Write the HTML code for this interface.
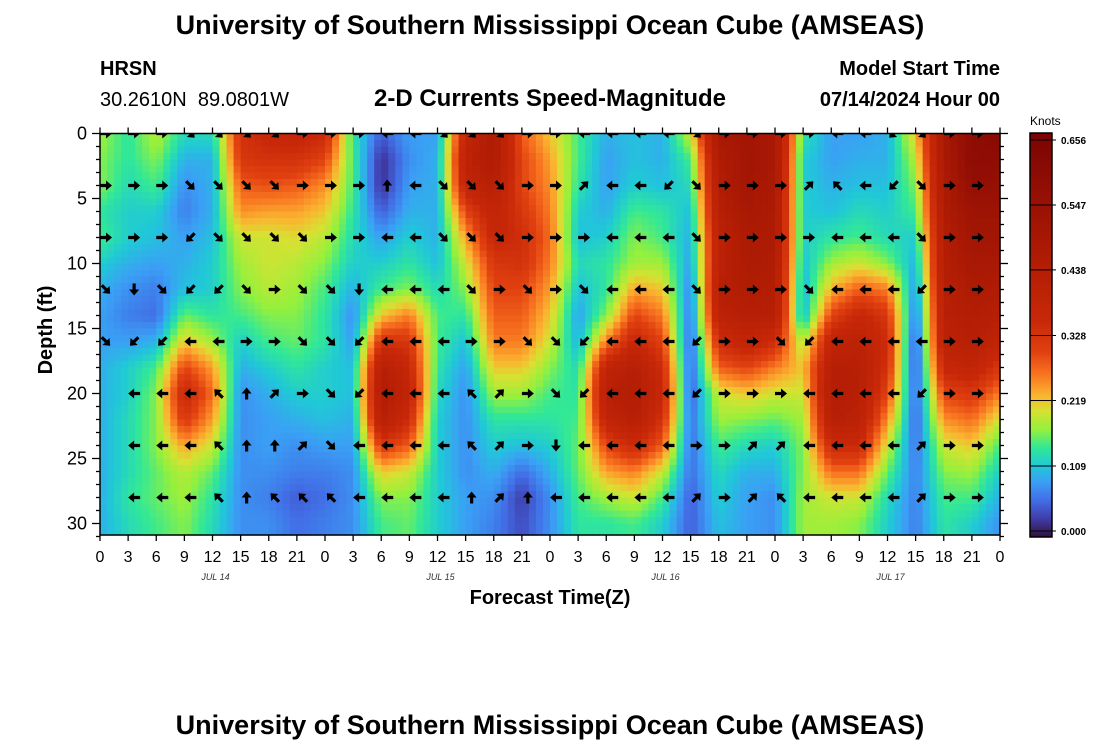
<!DOCTYPE html>
<html><head><meta charset="utf-8">
<style>
body{margin:0;background:#fff;}
svg text{font-family:"Liberation Sans",sans-serif;}
</style></head>
<body>
<svg id="chart" width="1100" height="750" viewBox="0 0 1100 750" xmlns="http://www.w3.org/2000/svg">
<text x="550" y="34" text-anchor="middle" font-size="27" font-weight="bold">University of Southern Mississippi Ocean Cube (AMSEAS)</text>
<text x="100" y="75" font-size="20" font-weight="bold">HRSN</text>
<text x="100" y="106" font-size="20" xml:space="preserve">30.2610N  89.0801W</text>
<text x="550" y="106" text-anchor="middle" font-size="24" font-weight="bold">2-D Currents Speed-Magnitude</text>
<text x="1000" y="75" text-anchor="end" font-size="20" font-weight="bold">Model Start Time</text>
<text x="1000" y="106" text-anchor="end" font-size="20" font-weight="bold">07/14/2024 Hour 00</text>
<clipPath id="plotclip"><rect x="100" y="133.5" width="900" height="401.5"/></clipPath>
<g id="heat"></g>
<g id="arrows" clip-path="url(#plotclip)"></g>
<rect x="100" y="133.5" width="900" height="401.5" fill="none" stroke="#000" stroke-width="1.5"/>
<g id="axes"></g>
<text transform="translate(52,330) rotate(-90)" text-anchor="middle" font-size="20" font-weight="bold">Depth (ft)</text>
<text x="550" y="604" text-anchor="middle" font-size="20" font-weight="bold">Forecast Time(Z)</text>
<text x="1030" y="125" font-size="12">Knots</text>
<defs><linearGradient id="cbg" x1="0" y1="1" x2="0" y2="0"></linearGradient></defs>
<rect x="1030" y="133" width="22" height="404" fill="url(#cbg)" stroke="#000" stroke-width="1.5"/>
<g id="cbticks"></g>
<text x="550" y="734" text-anchor="middle" font-size="27" font-weight="bold">University of Southern Mississippi Ocean Cube (AMSEAS)</text>
</svg>
<script>
// forecast hours (columns) and depths (rows)
const hours = [0,3,6,9,12,15,18,21,24,27,30,33,36,39,42,45,48,51,54,57,60,63,66,69,72,75,78,81,84,87,90,93,96];
const depths = [0,2,4,6,8,10,12,14,16,18,20,22,24,26,28,30];
// speed (knots), one array per forecast hour, values top-to-bottom by depth
const speedT0  = [.18,.17,.17,.14,.15,.12,.10,.09,.09,.10,.10,.10,.10,.10,.10,.10];
const speedT3  = [.14,.14,.13,.12,.12,.10,.08,.07,.09,.12,.12,.13,.13,.13,.14,.13];
const speedT6  = [.19,.17,.15,.12,.11,.09,.07,.06,.10,.15,.17,.17,.17,.16,.16,.15];
const speedT9  = [.13,.10,.08,.07,.09,.10,.11,.16,.22,.30,.36,.32,.24,.19,.18,.17];
const speedT12 = [.13,.10,.10,.10,.11,.12,.12,.14,.18,.24,.27,.24,.20,.16,.14,.13];
const speedT15 = [.33,.32,.28,.25,.20,.18,.17,.15,.12,.10,.08,.08,.08,.08,.08,.08];
const speedT18 = [.36,.33,.29,.24,.20,.20,.19,.17,.15,.12,.10,.09,.09,.08,.07,.08];
const speedT21 = [.37,.33,.28,.24,.21,.19,.18,.17,.16,.14,.12,.10,.08,.07,.05,.06];
const speedT24 = [.35,.30,.25,.22,.19,.17,.15,.14,.14,.12,.12,.11,.09,.07,.06,.07];
const speedT27 = [.14,.15,.15,.14,.13,.12,.10,.08,.09,.11,.11,.10,.09,.08,.08,.08];
const speedT30 = [.05,.02,.02,.05,.09,.12,.15,.22,.33,.42,.45,.42,.32,.22,.17,.15];
const speedT33 = [.09,.08,.09,.10,.12,.14,.17,.26,.32,.36,.38,.34,.28,.20,.17,.16];
const speedT36 = [.09,.10,.10,.10,.10,.11,.13,.15,.15,.14,.13,.12,.12,.12,.12,.12];
const speedT39 = [.37,.40,.38,.30,.24,.20,.17,.14,.11,.09,.08,.08,.08,.08,.09,.09];
const speedT42 = [.46,.45,.42,.38,.36,.32,.30,.28,.26,.22,.18,.14,.12,.10,.08,.07];
const speedT45 = [.28,.30,.30,.32,.34,.33,.30,.28,.26,.22,.18,.14,.11,.06,.03,.04];
const speedT48 = [.22,.24,.25,.26,.27,.26,.24,.22,.20,.17,.15,.14,.12,.10,.08,.08];
const speedT51 = [.15,.15,.14,.12,.11,.13,.11,.09,.10,.13,.14,.15,.16,.16,.15,.14];
const speedT54 = [.10,.09,.09,.10,.12,.14,.14,.17,.26,.38,.42,.38,.30,.24,.18,.14];
const speedT57 = [.11,.11,.12,.15,.17,.18,.24,.30,.36,.42,.44,.42,.35,.26,.20,.15];
const speedT60 = [.10,.10,.11,.14,.15,.18,.22,.26,.30,.34,.36,.33,.28,.20,.15,.12];
const speedT63 = [.20,.15,.13,.11,.10,.09,.07,.06,.05,.05,.05,.06,.06,.06,.05,.05];
const speedT66 = [.48,.45,.44,.42,.40,.40,.42,.40,.34,.28,.20,.18,.15,.13,.12,.11];
const speedT69 = [.50,.50,.50,.48,.46,.46,.45,.42,.38,.30,.22,.17,.13,.10,.09,.09];
const speedT72 = [.48,.48,.47,.46,.46,.45,.44,.42,.34,.26,.20,.16,.12,.10,.08,.08];
const speedT75 = [.14,.12,.12,.12,.12,.11,.10,.10,.18,.22,.20,.18,.17,.17,.18,.18];
const speedT78 = [.09,.09,.10,.11,.14,.18,.23,.30,.38,.42,.44,.42,.35,.27,.20,.18];
const speedT81 = [.09,.10,.11,.13,.15,.20,.28,.36,.40,.42,.42,.40,.35,.27,.20,.17];
const speedT84 = [.10,.10,.11,.12,.13,.17,.26,.32,.34,.33,.30,.25,.20,.16,.13,.12];
const speedT87 = [.22,.19,.17,.15,.12,.10,.08,.06,.04,.04,.05,.05,.06,.07,.07,.07];
const speedT90 = [.48,.47,.46,.45,.44,.43,.42,.41,.40,.36,.30,.25,.20,.17,.15,.14];
const speedT93 = [.58,.58,.56,.52,.50,.48,.46,.44,.42,.38,.32,.27,.22,.18,.15,.12];
const speedT96 = [.60,.58,.55,.52,.50,.48,.45,.42,.38,.32,.26,.20,.15,.12,.10,.08];
const speed = [speedT0,speedT3,speedT6,speedT9,speedT12,speedT15,speedT18,speedT21,speedT24,speedT27,speedT30,speedT33,speedT36,speedT39,speedT42,speedT45,speedT48,speedT51,speedT54,speedT57,speedT60,speedT63,speedT66,speedT69,speedT72,speedT75,speedT78,speedT81,speedT84,speedT87,speedT90,speedT93,speedT96];
// arrow directions: r=E l=W u=N d=S R=SE L=SW U=NE Y=NW .=none
const arrowDepths = [0,4,8,12,16,20,24,28];
const dirD0  = "rrrRRRRrrrllRRRrrllllRrrrrllLRrr.";
const dirD4  = "rrrRRRRrrrulRRRrrUllLRrrrUYlLRrr.";
const dirD8  = "rrrLRRRRrrllRRRrrrlllRrrrrlllRrr.";
const dirD12 = "RdRLLRrRRdlllRrRrRlllRrrrRlllLrr.";
const dirD16 = "RLLllrrRRLlllrrRRLlllLrrRLllllrr.";
const dirD20 = ".lllYuUrRLlllYUrRLlllLrrrllllLrr.";
const dirD24 = ".lllYuuURllllYUrdllllrrUUllllUrr.";
const dirD28 = ".lllYuYYYlllluUulllllUrUYllllUrru";
const dirs = [dirD0,dirD4,dirD8,dirD12,dirD16,dirD20,dirD24,dirD28];
const cbTicks = ["0.000","0.109","0.219","0.328","0.438","0.547","0.656"];
const xTickLabels = ["0","3","6","9","12","15","18","21"];
const dateLabels = ["JUL 14","JUL 15","JUL 16","JUL 17"];
const dateHours = [12,36,60,84];

const NS="http://www.w3.org/2000/svg";
const X0=100,X1=1000,Y0=133.5,Y1=535;
const xs = h => X0 + (h/96)*(X1-X0);
const ys = d => 133.5 + d*13;
const VMAX=0.656;
const stops=[[0,[48,18,59]],[0.03,[64,60,170]],[0.06,[66,110,230]],[0.09,[58,160,245]],[0.115,[32,200,215]],[0.145,[50,232,150]],[0.175,[150,240,60]],[0.205,[215,225,50]],[0.23,[250,180,48]],[0.265,[248,115,32]],[0.30,[225,65,16]],[0.35,[200,40,8]],[0.45,[176,28,4]],[0.55,[150,16,4]],[0.656,[122,4,3]]];
function col(v){v=Math.max(0,Math.min(VMAX,v));
 for(let i=1;i<stops.length;i++){if(v<=stops[i][0]){const a=stops[i-1],b=stops[i],t=(v-a[0])/(b[0]-a[0]);
 const c=a[1].map((x,j)=>Math.round(x+(b[1][j]-x)*t));return `rgb(${c[0]},${c[1]},${c[2]})`;}}
 return "rgb(122,4,3)";}
const grad=document.getElementById('cbg');
stops.forEach(s=>{const st=document.createElementNS(NS,'stop');st.setAttribute('offset',(s[0]/VMAX));st.setAttribute('stop-color',col(s[0]));grad.appendChild(st);});
const heat=document.getElementById('heat');
const SUB=4;
function sample(h,d){
 let i=Math.min(hours.length-2,Math.max(0,Math.floor(h/3)));let ti=(h-hours[i])/3;
 let j=Math.min(depths.length-2,Math.max(0,Math.floor(d/2)));let tj=Math.max(0,Math.min(1,(d-depths[j])/2));
 ti=Math.max(0,Math.min(1,ti));
 const a=speed[i][j],b=speed[i+1][j],c=speed[i][j+1],e=speed[i+1][j+1];
 return (a*(1-ti)+b*ti)*(1-tj)+(c*(1-ti)+e*ti)*tj;}
const dh=3/SUB, dd=2/SUB;
for(let h=0;h<96;h+=dh){for(let d=0;d<31;d+=dd){
 const r=document.createElementNS(NS,'rect');
 
 
 const x=xs(h),y=ys(d),w=xs(h+dh)-x,hh=Math.min(ys(d+dd),Y1)-y;
 r.setAttribute('x',x.toFixed(2));r.setAttribute('y',y.toFixed(2));r.setAttribute('width',(w+0.6).toFixed(2));r.setAttribute('height',(hh+0.6).toFixed(2));
 r.setAttribute('fill',col(sample(h+dh/2,d+dd/2)));heat.appendChild(r);}}
const ang={r:0,l:180,u:-90,d:90,R:45,L:135,U:-45,Y:-135};
const arr=document.getElementById('arrows');
dirs.forEach((s,ri)=>{for(let k=0;k<s.length&&k<hours.length;k++){const c=s[k];if(!(c in ang))continue;
 const g=document.createElementNS(NS,'path');
 
 
 g.setAttribute('d','M-6,-1.6 L0,-1.6 L0,-5 L6,0 L0,5 L0,1.6 L-6,1.6 Z');
 g.setAttribute('fill','#000');
 g.setAttribute('transform',`translate(${xs(hours[k])+6},${ys(arrowDepths[ri])}) rotate(${ang[c]})`);
 arr.appendChild(g);}});
const ax=document.getElementById('axes');
function line(x1,y1,x2,y2,name){const l=document.createElementNS(NS,'line');l.setAttribute('x1',x1);l.setAttribute('y1',y1);l.setAttribute('x2',x2);l.setAttribute('y2',y2);l.setAttribute('stroke','#000');l.setAttribute('stroke-width','1.3');
 
 
 ax.appendChild(l);}
function text(x,y,s,opts,name){const t=document.createElementNS(NS,'text');t.setAttribute('x',x);t.setAttribute('y',y);t.textContent=s;for(const k in opts)t.setAttribute(k,opts[k]);
 
 
 ax.appendChild(t);return t;}
for(let d=0;d<=31;d++){const y=ys(d),m=d%5===0;
 line(X0-(m?8:4),y,X0,y,'y-tick');line(X1,y,X1+(m?8:4),y,'y-tick-right');
 if(m) text(87,y+6,String(d),{'text-anchor':'end','font-size':'18'},'y-tick-label');}
for(let k=0;k<hours.length;k++){const x=xs(hours[k]);
 line(x,Y1,x,Y1+6,'x-tick');line(x,Y0-6,x,Y0,'x-tick-top');
 text(x,562,xTickLabels[k%8],{'text-anchor':'middle','font-size':'16'},'x-tick-label');}
dateLabels.forEach((s,i)=>text(xs(dateHours[i])+3,580,s,{'text-anchor':'middle','font-size':'9','font-style':'italic','font-family':'Liberation Mono, monospace','fill':'#333'},'date-label'));
const cbt=document.getElementById('cbticks');
cbTicks.forEach((s,i)=>{const v=parseFloat(s);const y=531-(v/VMAX)*391;
 const l=document.createElementNS(NS,'line');l.setAttribute('x1',1030);l.setAttribute('x2',1056);l.setAttribute('y1',y);l.setAttribute('y2',y);l.setAttribute('stroke','#000');
 
 
 cbt.appendChild(l);
 const t=document.createElementNS(NS,'text');t.setAttribute('x',1061);t.setAttribute('y',y+4);t.setAttribute('font-size','10');t.setAttribute('font-weight','bold');t.textContent=s;
 
 
 cbt.appendChild(t);});
</script>
</body></html>
